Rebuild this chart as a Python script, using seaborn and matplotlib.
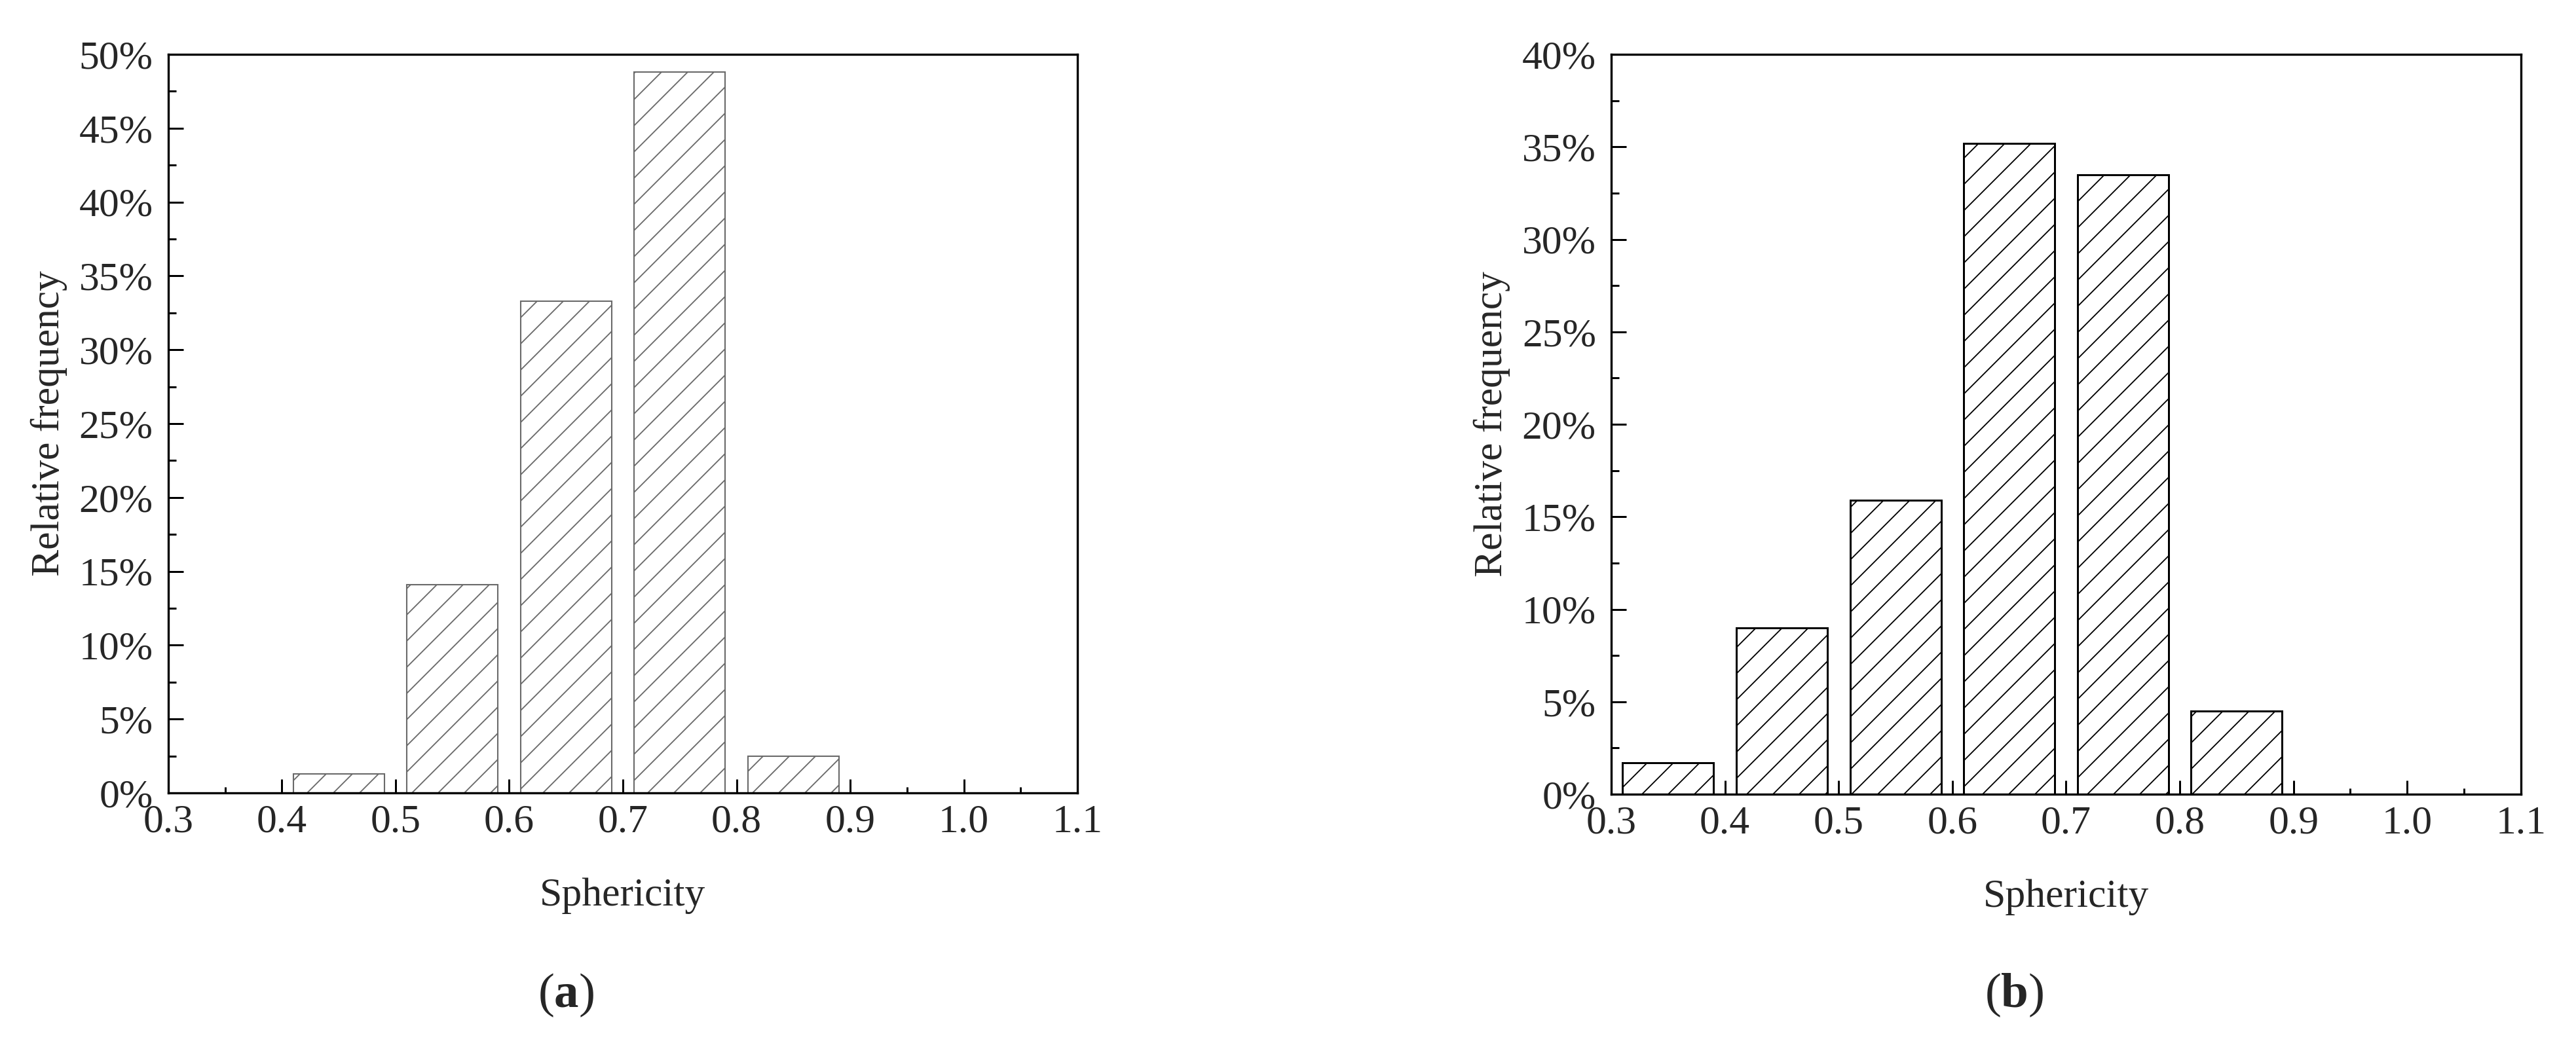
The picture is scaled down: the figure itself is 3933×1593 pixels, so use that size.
import numpy as np
import seaborn as sns
import matplotlib.pyplot as plt
from matplotlib.ticker import MultipleLocator, PercentFormatter, FormatStrFormatter

# bin centres of sphericity classes and relative frequency (%)
centers_a = [0.45, 0.55, 0.65, 0.75, 0.85]
freq_a = [1.3, 14.1, 33.3, 48.8, 2.5]
centers_b = [0.35, 0.45, 0.55, 0.65, 0.75, 0.85]
freq_b = [1.7, 9.0, 15.9, 35.2, 33.5, 4.5]

ymax_a = 50
ymax_b = 40
xlabel = "Sphericity"
ylabel = "Relative frequency"
panel_labels = ["a", "b"]

sns.set_style("ticks")
plt.rcParams['font.family'] = ['Liberation Serif', 'DejaVu Serif']
plt.rcParams['mathtext.fontset'] = 'custom'
plt.rcParams['mathtext.rm'] = 'Liberation Serif'
plt.rcParams['mathtext.bf'] = 'Liberation Serif:bold'
plt.rcParams['hatch.linewidth'] = 1.1

# dpi picked so the single '/' hatch has roughly the reference line spacing
dpi = 120
fig = plt.figure(figsize=(3933 / dpi, 1593 / dpi), dpi=dpi)
ax_a = fig.add_axes([0.0653, 0.2398, 0.3530, 0.7081])
ax_b = fig.add_axes([0.6255, 0.2385, 0.3531, 0.7094])

panels = [
    (ax_a, centers_a, freq_a, ymax_a, '#6a6a6a', 1.25),
    (ax_b, centers_b, freq_b, ymax_b, 'black', 1.8),
]

for ax, cx, fy, ymax, ec, lw in panels:
    sns.barplot(x=cx, y=fy, native_scale=True, width=0.8, color='white',
                saturation=1, edgecolor=ec, linewidth=lw, errorbar=None, ax=ax)
    for p in ax.patches:
        p.set_hatch('/')

    ax.set_xlim(0.3, 1.1)
    ax.set_ylim(0, ymax)
    ax.xaxis.set_major_locator(MultipleLocator(0.1))
    ax.xaxis.set_minor_locator(MultipleLocator(0.05))
    ax.xaxis.set_major_formatter(FormatStrFormatter('%.1f'))
    ax.yaxis.set_major_locator(MultipleLocator(5))
    ax.yaxis.set_minor_locator(MultipleLocator(2.5))
    ax.yaxis.set_major_formatter(PercentFormatter(100, decimals=0))

    for s in ax.spines.values():
        s.set_linewidth(2.0)
        s.set_color('black')
    ax.tick_params(which='both', direction='in', top=False, right=False,
                   width=1.8, color='black', labelsize=37)
    ax.tick_params(axis='x', which='major', length=12.7, pad=10)
    ax.tick_params(axis='x', which='minor', length=5.7)
    ax.tick_params(axis='y', which='major', length=13.7, pad=14)
    ax.tick_params(axis='y', which='minor', length=7)

    ax.set_xlabel(xlabel, fontsize=37)
    ax.set_ylabel(ylabel, fontsize=37)
    ax.xaxis.label.set_va('center')
    ax.yaxis.label.set_va('center')
    ax.xaxis.set_label_coords(0.5, -0.139)
    ax.yaxis.set_label_coords(-0.131, 0.5)

fig.text(0.2197, 0.046, "(" + r"$\mathbf{" + panel_labels[0] + "}$" + ")",
         ha='center', va='center', fontsize=45)
fig.text(0.782, 0.046, "(" + r"$\mathbf{" + panel_labels[1] + "}$" + ")",
         ha='center', va='center', fontsize=45)

fig.savefig('out.png', dpi=dpi)
